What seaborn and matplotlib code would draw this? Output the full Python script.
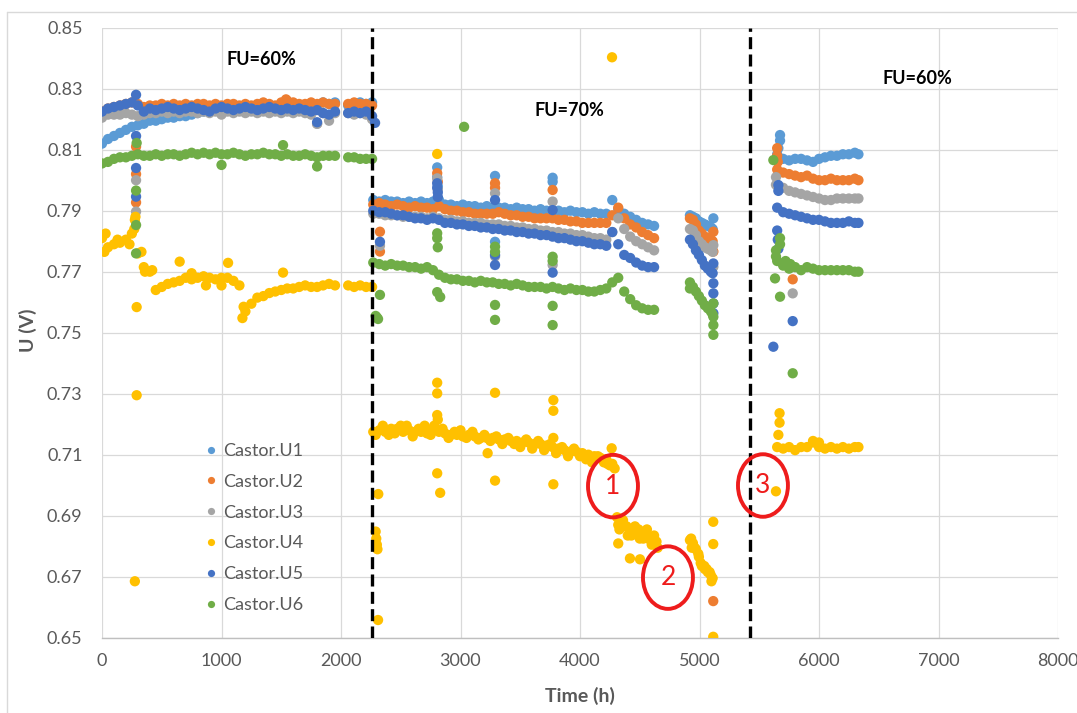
import numpy as np
import pandas as pd
import matplotlib
matplotlib.use("Agg")
import matplotlib.pyplot as plt
from matplotlib.patches import Ellipse
from matplotlib.lines import Line2D
import seaborn as sns

# ---------------- data ----------------
SERIES = ["Castor.U1", "Castor.U2", "Castor.U3", "Castor.U4", "Castor.U5", "Castor.U6"]
COLORS = ["#5B9BD5", "#ED7D31", "#A5A5A5", "#FFC000", "#4472C4", "#70AD47"]

T_A = [0, 50, 100, 150, 200, 250, 300, 350, 400, 450,
       500, 550, 600, 650, 700, 750, 800, 850, 900, 950,
       1000, 1050, 1100, 1150, 1200, 1250, 1300, 1350, 1400, 1450,
       1500, 1550, 1600, 1650, 1700, 1750, 1800, 1850, 1900, 1950,
       2060, 2110, 2160, 2210, 2260]
T_B = [2270, 2320, 2370, 2420, 2470, 2520, 2570, 2620, 2670, 2720,
       2770, 2820, 2870, 2920, 2970, 3020, 3070, 3120, 3170, 3220,
       3270, 3320, 3370, 3420, 3470, 3520, 3570, 3620, 3670, 3720,
       3770, 3820, 3870, 3920, 3970, 4020, 4070, 4120, 4170, 4220,
       4270, 4320, 4370, 4420, 4470, 4520, 4570, 4620]
T_C = [4920, 4945, 4970, 4995, 5020, 5045, 5070, 5095, 5110]
T_D = [5650, 5700, 5750, 5800, 5850, 5900, 5950, 6000, 6050, 6100,
       6150, 6200, 6250, 6300, 6330]

U1_A = [0.812, 0.8135, 0.8145, 0.8155, 0.8165, 0.8175, 0.818, 0.8185, 0.8195, 0.8195,
        0.820, 0.8205, 0.8205, 0.821, 0.821, 0.8215, 0.822, 0.8225, 0.8225, 0.823,
        0.8235, 0.8235, 0.824, 0.8235, 0.824, 0.824, 0.8235, 0.824, 0.824, 0.824,
        0.8245, 0.824, 0.8245, 0.8245, 0.8245, 0.825, 0.8245, 0.8255, 0.825, 0.8255,
        0.8245, 0.825, 0.8255, 0.825, 0.8255]
U2_A = [0.8225, 0.8235, 0.824, 0.8245, 0.825, 0.8255, 0.825, 0.824, 0.8245, 0.8245,
        0.825, 0.8245, 0.825, 0.8245, 0.825, 0.8245, 0.825, 0.825, 0.8245, 0.825,
        0.8245, 0.825, 0.825, 0.8245, 0.825, 0.8245, 0.825, 0.8255, 0.825, 0.8245,
        0.8255, 0.826, 0.8255, 0.825, 0.825, 0.8255, 0.825, 0.8255, 0.825, 0.825,
        0.825, 0.8255, 0.825, 0.825, 0.8245]
U3_A = [0.8205, 0.8215, 0.8215, 0.8215, 0.822, 0.8215, 0.821, 0.8215, 0.822, 0.822,
        0.8225, 0.822, 0.8225, 0.822, 0.8225, 0.8225, 0.822, 0.8225, 0.822, 0.8225,
        0.8215, 0.8225, 0.822, 0.8225, 0.822, 0.8225, 0.822, 0.8225, 0.822, 0.8225,
        0.822, 0.8225, 0.822, 0.8225, 0.822, 0.8215, 0.8185, 0.822, 0.8195, 0.822,
        0.822, 0.8215, 0.822, 0.8215, 0.820]
U4_A = [0.781, 0.778, 0.779, 0.7795, 0.7805, 0.7825, 0.776, 0.7715, 0.770, 0.764,
        0.765, 0.766, 0.7665, 0.767, 0.768, 0.7675, 0.768, 0.7685, 0.768, 0.7675,
        0.768, 0.768, 0.767, 0.7655, 0.757, 0.7595, 0.7615, 0.762, 0.763, 0.7635,
        0.764, 0.7645, 0.7645, 0.765, 0.7655, 0.765, 0.765, 0.7655, 0.766, 0.7655,
        0.7655, 0.765, 0.7655, 0.765, 0.765]
U5_A = [0.8225, 0.8235, 0.824, 0.8245, 0.825, 0.8255, 0.8245, 0.8225, 0.8235, 0.823,
        0.8235, 0.824, 0.8235, 0.823, 0.8235, 0.824, 0.8235, 0.823, 0.8225, 0.8235,
        0.824, 0.8235, 0.823, 0.8235, 0.824, 0.8235, 0.823, 0.8235, 0.824, 0.8235,
        0.823, 0.8235, 0.823, 0.8235, 0.823, 0.8225, 0.823, 0.822, 0.8215, 0.8225,
        0.822, 0.8225, 0.822, 0.8225, 0.821]
U6_A = [0.8055, 0.806, 0.807, 0.8075, 0.8075, 0.808, 0.8085, 0.808, 0.808, 0.8085,
        0.808, 0.8085, 0.8085, 0.808, 0.8085, 0.809, 0.8085, 0.809, 0.8085, 0.809,
        0.8085, 0.8085, 0.809, 0.8085, 0.808, 0.8085, 0.8085, 0.809, 0.8085, 0.8085,
        0.808, 0.8085, 0.808, 0.808, 0.8085, 0.808, 0.8075, 0.808, 0.808, 0.808,
        0.8075, 0.8075, 0.807, 0.807, 0.807]

U1_B = [0.7935, 0.793, 0.7935, 0.793, 0.793, 0.7925, 0.793, 0.7925, 0.793, 0.7925,
        0.793, 0.7935, 0.792, 0.792, 0.7915, 0.792, 0.7915, 0.7915, 0.791, 0.7915,
        0.791, 0.791, 0.791, 0.7905, 0.791, 0.7905, 0.7905, 0.790, 0.7905, 0.790,
        0.790, 0.790, 0.7895, 0.790, 0.7895, 0.7895, 0.789, 0.7895, 0.789, 0.789,
        0.7935, 0.7905, 0.789, 0.788, 0.787, 0.786, 0.7855, 0.785]
U2_B = [0.792, 0.7925, 0.792, 0.7915, 0.792, 0.7915, 0.791, 0.7915, 0.791, 0.791,
        0.7905, 0.7915, 0.7905, 0.790, 0.790, 0.7895, 0.7895, 0.789, 0.789, 0.789,
        0.789, 0.7895, 0.789, 0.7885, 0.7885, 0.788, 0.788, 0.7875, 0.7875, 0.7875,
        0.7875, 0.787, 0.787, 0.7865, 0.7865, 0.786, 0.786, 0.786, 0.786, 0.786,
        0.7885, 0.791, 0.7875, 0.7855, 0.7845, 0.783, 0.782, 0.781]
U3_B = [0.789, 0.789, 0.7885, 0.7885, 0.7885, 0.788, 0.788, 0.788, 0.788, 0.7875,
        0.788, 0.7875, 0.787, 0.787, 0.7865, 0.7865, 0.786, 0.786, 0.786, 0.7855,
        0.7855, 0.7855, 0.785, 0.785, 0.7845, 0.7845, 0.784, 0.784, 0.7835, 0.7835,
        0.783, 0.783, 0.7825, 0.7825, 0.782, 0.782, 0.7815, 0.781, 0.781, 0.7805,
        0.783, 0.7875, 0.784, 0.7815, 0.780, 0.779, 0.778, 0.777]
U4_B = [0.7175, 0.718, 0.7175, 0.7185, 0.7185, 0.7175, 0.718, 0.7175, 0.7175, 0.717,
        0.7185, 0.7175, 0.717, 0.7165, 0.7165, 0.716, 0.7165, 0.716, 0.7155, 0.7155,
        0.7155, 0.715, 0.715, 0.7145, 0.7145, 0.714, 0.714, 0.7135, 0.7135, 0.713,
        0.7125, 0.712, 0.7115, 0.711, 0.711, 0.7105, 0.710, 0.7095, 0.709, 0.7085,
        0.707, 0.687, 0.6865, 0.685, 0.6845, 0.684, 0.6825, 0.681]
U5_B = [0.790, 0.7895, 0.7895, 0.789, 0.7885, 0.7885, 0.788, 0.7875, 0.7875, 0.787,
        0.7875, 0.787, 0.786, 0.786, 0.7855, 0.7855, 0.785, 0.785, 0.7845, 0.7845,
        0.784, 0.784, 0.7835, 0.7835, 0.783, 0.783, 0.7825, 0.7825, 0.782, 0.782,
        0.7815, 0.781, 0.781, 0.7805, 0.780, 0.780, 0.7795, 0.779, 0.779, 0.7785,
        0.783, 0.779, 0.7755, 0.7745, 0.773, 0.772, 0.7715, 0.7715]
U6_B = [0.773, 0.7725, 0.772, 0.7725, 0.772, 0.772, 0.7715, 0.7715, 0.771, 0.7715,
        0.7705, 0.769, 0.768, 0.7675, 0.7675, 0.767, 0.767, 0.7665, 0.767, 0.7665,
        0.7665, 0.766, 0.766, 0.7655, 0.766, 0.7655, 0.765, 0.765, 0.765, 0.7645,
        0.765, 0.7645, 0.764, 0.7645, 0.764, 0.764, 0.7635, 0.7635, 0.764, 0.7645,
        0.7665, 0.768, 0.7635, 0.761, 0.759, 0.758, 0.7575, 0.7575]

U1_C = [0.7885, 0.788, 0.7875, 0.7865, 0.786, 0.7855, 0.785, 0.7845, 0.784]
U2_C = [0.7875, 0.787, 0.7855, 0.7835, 0.7825, 0.7815, 0.781, 0.7805, 0.780]
U3_C = [0.784, 0.7835, 0.782, 0.780, 0.779, 0.778, 0.7775, 0.777, 0.7765]
U4_C = [0.682, 0.681, 0.679, 0.6765, 0.6735, 0.6725, 0.6715, 0.6705, 0.6695]
U5_C = [0.7805, 0.779, 0.777, 0.7755, 0.7738, 0.772, 0.771, 0.770, 0.7695]
U6_C = [0.7665, 0.765, 0.7635, 0.762, 0.7605, 0.759, 0.758, 0.757, 0.756]

U1_D = [0.8085, 0.807, 0.8065, 0.807, 0.807, 0.8065, 0.806, 0.807, 0.8075, 0.808,
        0.808, 0.8085, 0.8085, 0.809, 0.8085]
U2_D = [0.8035, 0.8025, 0.802, 0.8015, 0.801, 0.8015, 0.8005, 0.800, 0.800, 0.8005,
        0.800, 0.800, 0.800, 0.8005, 0.800]
U3_D = [0.7985, 0.7975, 0.7965, 0.796, 0.7955, 0.795, 0.7945, 0.794, 0.7935, 0.7935,
        0.794, 0.794, 0.794, 0.794, 0.794]
U4_D = [0.7125, 0.712, 0.7125, 0.7115, 0.7125, 0.7125, 0.714, 0.7125, 0.712, 0.7125,
        0.712, 0.7125, 0.712, 0.7125, 0.7125]
U5_D = [0.791, 0.7895, 0.789, 0.7885, 0.788, 0.7875, 0.787, 0.787, 0.7865, 0.786,
        0.786, 0.786, 0.7865, 0.786, 0.786]
U6_D = [0.7735, 0.772, 0.771, 0.7715, 0.7705, 0.7715, 0.771, 0.7705, 0.7705, 0.7705,
        0.7705, 0.7705, 0.7705, 0.770, 0.770]

# isolated readings (spikes, outliers, band spread): time, value
U1_X_T = [2805, 2805, 2810, 3289, 3289, 3771, 3771, 5116, 5674, 5674, 5660]
U1_X_V = [0.8042, 0.801, 0.798, 0.8014, 0.7798, 0.8008, 0.7995, 0.7875, 0.8148, 0.813, 0.8105]
U2_X_T = [285, 285, 285, 1540, 2805, 2810, 3289, 3289, 3771, 2326, 2326, 5116, 5116, 5115,
          5650, 5650, 5655, 5780]
U2_X_V = [0.811, 0.802, 0.7927, 0.8265, 0.8023, 0.7995, 0.799, 0.7975, 0.7968, 0.7831, 0.7766,
          0.7831, 0.7766, 0.662, 0.8105, 0.808, 0.806, 0.7675]
U3_X_T = [285, 285, 2805, 2810, 3289, 3289, 3771, 3771, 2326, 5116, 5116, 5640, 5640, 5780, 1800]
U3_X_V = [0.800, 0.7897, 0.8006, 0.797, 0.7957, 0.775, 0.793, 0.7722, 0.7785, 0.7787, 0.7716,
          0.801, 0.7985, 0.7629, 0.8185]
U4_X_T = [20, 30, 130, 230, 270, 275, 280, 290, 290, 275, 330, 360, 420, 650, 750, 1055,
          1515, 1175, 1185, 870, 1000,
          2290, 2295, 2300, 2305, 2312, 2310, 2805, 2805, 2805, 2805, 2810, 2805, 2830,
          3289, 3289, 3227, 3777, 3777, 3777, 3777, 4268, 4265, 4250, 4290, 4230,
          2500, 2700, 3000, 2600, 3500, 4000, 4100,
          2290, 2350, 2400, 2450, 2550, 2650, 2750, 2780, 2850, 2900, 2950, 3050, 3100,
          3150, 3200, 3250, 3300, 3350, 3400, 3450, 3550, 3600, 3650, 3700, 3750, 3800,
          3850, 3900, 3950, 4050, 4150, 4200,
          4340, 4400, 4450, 4500, 4550, 4600, 4650, 4320, 4418, 4502,
          4330, 4360, 4390, 4430, 4460, 4490, 4530, 4560, 4590, 4620, 4640, 4310,
          5115, 5115, 5115, 4935,
          4930, 4960, 4990, 5010, 5040, 5060, 5085, 5100,
          5670, 5670, 5660, 5640, 5950, 6000]
U4_X_V = [0.7765, 0.7825, 0.7805, 0.779, 0.784, 0.787, 0.788, 0.7584, 0.7295, 0.6685, 0.7765,
          0.770, 0.7705, 0.7733, 0.7695, 0.7729, 0.7697, 0.7548, 0.7585, 0.7655, 0.7655,
          0.6848, 0.6825, 0.6805, 0.679, 0.6971, 0.6558, 0.8086, 0.7336, 0.7301, 0.723, 0.7215,
          0.7039, 0.6975,
          0.7303, 0.7015, 0.7105, 0.7279, 0.7244, 0.7003, 0.7155, 0.8403, 0.7121, 0.7065,
          0.7055, 0.707,
          0.7195, 0.7195, 0.718, 0.716, 0.7125, 0.7095, 0.7075,
          0.7165, 0.7195, 0.7165, 0.717, 0.7195, 0.7185, 0.7165, 0.7195, 0.7185, 0.7155,
          0.7175, 0.7155, 0.7175, 0.715, 0.7165, 0.7145, 0.716, 0.7135, 0.7155, 0.7135,
          0.715, 0.712, 0.7145, 0.7115, 0.7135, 0.7105, 0.7125, 0.7095, 0.712, 0.7085,
          0.7095, 0.7075,
          0.6885, 0.6835, 0.6855, 0.6825, 0.6845, 0.6805, 0.6795, 0.6809, 0.676, 0.6757,
          0.6855, 0.6885, 0.6865, 0.6835, 0.6865, 0.6855, 0.6825, 0.6855, 0.683, 0.6835,
          0.6815, 0.6895,
          0.688, 0.6807, 0.6503, 0.6795,
          0.6825, 0.6795, 0.6775, 0.6745, 0.6735, 0.6725, 0.6715, 0.6685,
          0.7236, 0.7205, 0.7165, 0.698, 0.7145, 0.714]
U5_X_T = [285, 285, 285, 285, 1800, 2285, 2805, 2805, 2810, 2810, 3289, 3289, 3289, 3771, 3771,
          2326, 5116, 5116, 5116, 5116, 5116, 5660, 5660, 5650, 5655, 5660, 5618, 5780]
U5_X_V = [0.828, 0.8145, 0.804, 0.7946, 0.819, 0.8188, 0.799, 0.7975, 0.796, 0.7945, 0.7935,
          0.7755, 0.7722, 0.7902, 0.7697, 0.7798, 0.7727, 0.7662, 0.7629, 0.7596, 0.7564,
          0.7984, 0.7965, 0.7835, 0.7805, 0.7775, 0.7454, 0.7538]
U6_X_T = [290, 285, 285, 285, 1000, 1800, 1515, 3030, 2805, 2805, 2810, 2805, 2830, 3289, 3289,
          3289, 3289, 3771, 3771, 3771, 3771, 2326, 2290, 2300, 2310, 4920, 5116, 5116, 5116,
          5116, 5618, 5640, 5640, 5632, 5674, 5674, 5674, 5780, 5720, 5760]
U6_X_V = [0.8122, 0.7966, 0.7853, 0.776, 0.805, 0.8045, 0.8115, 0.8175, 0.7826, 0.781, 0.778,
          0.7633, 0.7617, 0.7782, 0.7765, 0.7591, 0.7542, 0.7749, 0.7735, 0.7588, 0.7525,
          0.7624, 0.7555, 0.755, 0.7545, 0.7645, 0.7596, 0.7552, 0.7525, 0.7493, 0.8066,
          0.777, 0.775, 0.7678, 0.7618, 0.781, 0.779, 0.7367, 0.7735, 0.7725]

SEGMENT_VALUES = {
    "Castor.U1": (U1_A, U1_B, U1_C, U1_D, U1_X_T, U1_X_V),
    "Castor.U2": (U2_A, U2_B, U2_C, U2_D, U2_X_T, U2_X_V),
    "Castor.U3": (U3_A, U3_B, U3_C, U3_D, U3_X_T, U3_X_V),
    "Castor.U4": (U4_A, U4_B, U4_C, U4_D, U4_X_T, U4_X_V),
    "Castor.U5": (U5_A, U5_B, U5_C, U5_D, U5_X_T, U5_X_V),
    "Castor.U6": (U6_A, U6_B, U6_C, U6_D, U6_X_T, U6_X_V),
}

X_TICKS = [0, 1000, 2000, 3000, 4000, 5000, 6000, 7000, 8000]
Y_TICKS = [0.65, 0.67, 0.69, 0.71, 0.73, 0.75, 0.77, 0.79, 0.81, 0.83, 0.85]
PHASE_BOUNDS = [2258, 5425]
PHASE_LABELS = ["FU=60%", "FU=70%", "FU=60%"]
PHASE_LABEL_POS = [(1331, 0.8397), (3908, 0.8227), (6820, 0.8335)]
MARK_LABELS = ["1", "2", "3"]
MARK_POS = [(4276, 0.6997), (4736, 0.6697), (5531, 0.6999)]

# ---------------- build table ----------------
rows = []
for name in SERIES:
    a, b, c, d, xt, xv = SEGMENT_VALUES[name]
    ts = T_A + T_B + T_C + T_D + xt
    vs = a + b + c + d + xv
    assert len(ts) == len(vs), name
    for t, v in zip(ts, vs):
        rows.append((name, t, v))
df = pd.DataFrame(rows, columns=["Series", "Time", "U"])

# ---------------- draw ----------------
sns.set_style("white")
plt.rcParams["font.family"] = ["Lato", "DejaVu Sans"]

W, H = 1077, 713
fig = plt.figure(figsize=(W / 100, H / 100), dpi=100)
ax = fig.add_axes([102 / W, 1 - 637.7 / H, 956 / W, 610 / H])

sns.scatterplot(data=df, x="Time", y="U", hue="Series", hue_order=SERIES,
                palette=dict(zip(SERIES, COLORS)), s=55, linewidth=0,
                edgecolor="none", alpha=1, ax=ax, legend=True, zorder=3)

ax.set_xlim(X_TICKS[0], X_TICKS[-1])
ax.set_ylim(Y_TICKS[0], Y_TICKS[-1])
ax.set_xticks(X_TICKS)
ax.set_yticks(Y_TICKS)
ax.set_yticklabels([f"{v:.2f}" for v in Y_TICKS])
ax.set_xticklabels([str(v) for v in X_TICKS])
ax.grid(True, color="#d9d9d9", linewidth=0.9, zorder=0)
ax.set_axisbelow(True)
for side in ["left", "right", "top"]:
    ax.spines[side].set_visible(False)
ax.spines["bottom"].set_color("#bfbfbf")
ax.spines["bottom"].set_linewidth(1.0)
ax.tick_params(axis="both", length=0, labelsize=13, labelcolor="#595959")
ax.tick_params(axis="x", pad=11)
ax.tick_params(axis="y", pad=14)
ax.set_xlabel("")
ax.set_ylabel("")

for xb in PHASE_BOUNDS:
    ax.axvline(xb, color="black", linewidth=2.4, linestyle=(0, (3.6, 1.6)), zorder=5)

for lab, (tx, ty) in zip(PHASE_LABELS, PHASE_LABEL_POS):
    ax.text(tx, ty, lab, ha="center", va="center", fontsize=13, fontweight="bold",
            color="black", zorder=6)

for lab, (tx, ty) in zip(MARK_LABELS, MARK_POS):
    ax.add_patch(Ellipse((tx, ty), width=418, height=0.0205, fill=False,
                         edgecolor="#ee1c1c", linewidth=2.8, zorder=7))
    ax.text(tx, ty, lab, ha="center", va="center", fontsize=19, color="#ee1c1c", zorder=8)

leg = ax.get_legend()
handles = leg.legend_handles
labels = [t.get_text() for t in leg.get_texts()]
leg.remove()
ax.legend(handles, labels, loc="upper left", bbox_to_anchor=(0.089, 0.346),
          frameon=False, fontsize=13, labelspacing=0.82, handlelength=0.8,
          handletextpad=0.3, markerscale=0.7, labelcolor="#595959", borderpad=0.4)

fig.text(28 / W, 1 - 330 / H, "U (V)", rotation=90, ha="center", va="center",
         fontsize=14, fontweight="bold", color="#595959")
fig.text(580 / W, 1 - 696 / H, "Time (h)", ha="center", va="center",
         fontsize=14, fontweight="bold", color="#595959")

# chart-area border (top and left edges visible)
fig.add_artist(Line2D([7 / W, 1], [1 - 12 / H, 1 - 12 / H], color="#d9d9d9", lw=1.0,
                      transform=fig.transFigure))
fig.add_artist(Line2D([7 / W, 7 / W], [0, 1 - 12 / H], color="#d9d9d9", lw=1.0,
                      transform=fig.transFigure))

fig.savefig("out.png", dpi=100, facecolor="white")
